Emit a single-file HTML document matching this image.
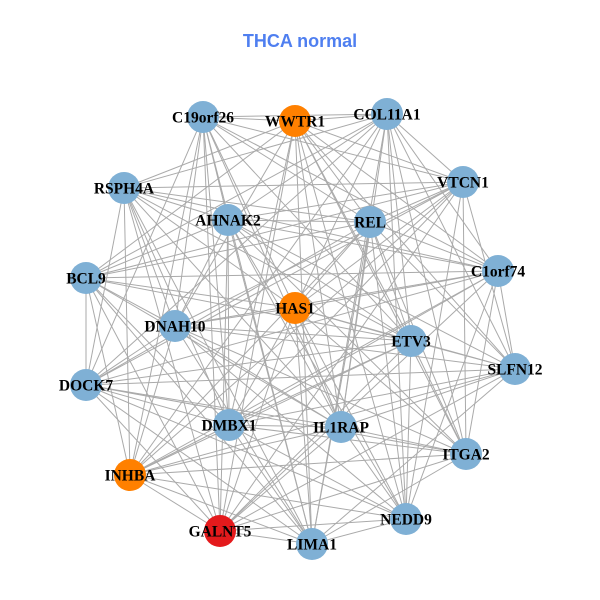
<!DOCTYPE html>
<html><head><meta charset="utf-8">
<style>
html,body{margin:0;padding:0;background:#fff;}
svg{display:block;}
.lbl{font-family:"Liberation Serif",serif;font-weight:bold;font-size:15.5px;fill:#000;text-anchor:middle;dominant-baseline:central;}
</style></head><body>
<svg id="s" width="600" height="600" viewBox="0 0 600 600">
<text x="300" y="41" text-anchor="middle" dominant-baseline="central" style="font-family:'Liberation Sans',sans-serif;font-weight:bold;font-size:18px;fill:#4f7ff0">THCA normal</text>
<g id="edges" stroke="#aaaaaa" stroke-width="1"></g>
<g id="nodes"></g>
<g id="labels">
<text class="lbl" x="203" y="118">C19orf26</text>
<text class="lbl" x="295" y="122">WWTR1</text>
<text class="lbl" x="387" y="115">COL11A1</text>
<text class="lbl" x="463" y="183">VTCN1</text>
<text class="lbl" x="124" y="189">RSPH4A</text>
<text class="lbl" x="228" y="221">AHNAK2</text>
<text class="lbl" x="370" y="223">REL</text>
<text class="lbl" x="498" y="272">C1orf74</text>
<text class="lbl" x="86" y="279">BCL9</text>
<text class="lbl" x="295" y="309">HAS1</text>
<text class="lbl" x="175" y="327">DNAH10</text>
<text class="lbl" x="411" y="342">ETV3</text>
<text class="lbl" x="515" y="370">SLFN12</text>
<text class="lbl" x="86" y="386">DOCK7</text>
<text class="lbl" x="229" y="426">DMBX1</text>
<text class="lbl" x="341" y="428">IL1RAP</text>
<text class="lbl" x="466" y="455">ITGA2</text>
<text class="lbl" x="130" y="476">INHBA</text>
<text class="lbl" x="220" y="532">GALNT5</text>
<text class="lbl" x="312" y="545">LIMA1</text>
<text class="lbl" x="406" y="520">NEDD9</text>
</g>
</svg>
<script>
var N=[[203,117,0],[295,121,1],[387,114,0],[463,182,0],[124,188,0],[228,220,0],[370,222,0],[498,271,0],[86,278,0],[295,308,1],[175,326,0],[411,341,0],[515,369,0],[86,385,0],[229,425,0],[341,427,0],[466,454,0],[130,475,1],[220,531,2],[312,544,0],[406,519,0]];
var ns="http://www.w3.org/2000/svg",E=document.getElementById("edges"),G=document.getElementById("nodes");
for(var i=0;i<N.length;i++)for(var j=i+1;j<N.length;j++){
 if(((i*7+j*13)%4)==0)continue;
 var l=document.createElementNS(ns,"line");
 l.setAttribute("x1",N[i][0]);l.setAttribute("y1",N[i][1]);l.setAttribute("x2",N[j][0]);l.setAttribute("y2",N[j][1]);
 E.appendChild(l);}
var C=["#7fb0d5","#ff8000","#e41a1c"];
N.forEach(function(n){var c=document.createElementNS(ns,"circle");c.setAttribute("cx",n[0]);c.setAttribute("cy",n[1]);c.setAttribute("r",16);c.setAttribute("fill",C[n[2]]);G.appendChild(c);});
</script>
</body></html>
